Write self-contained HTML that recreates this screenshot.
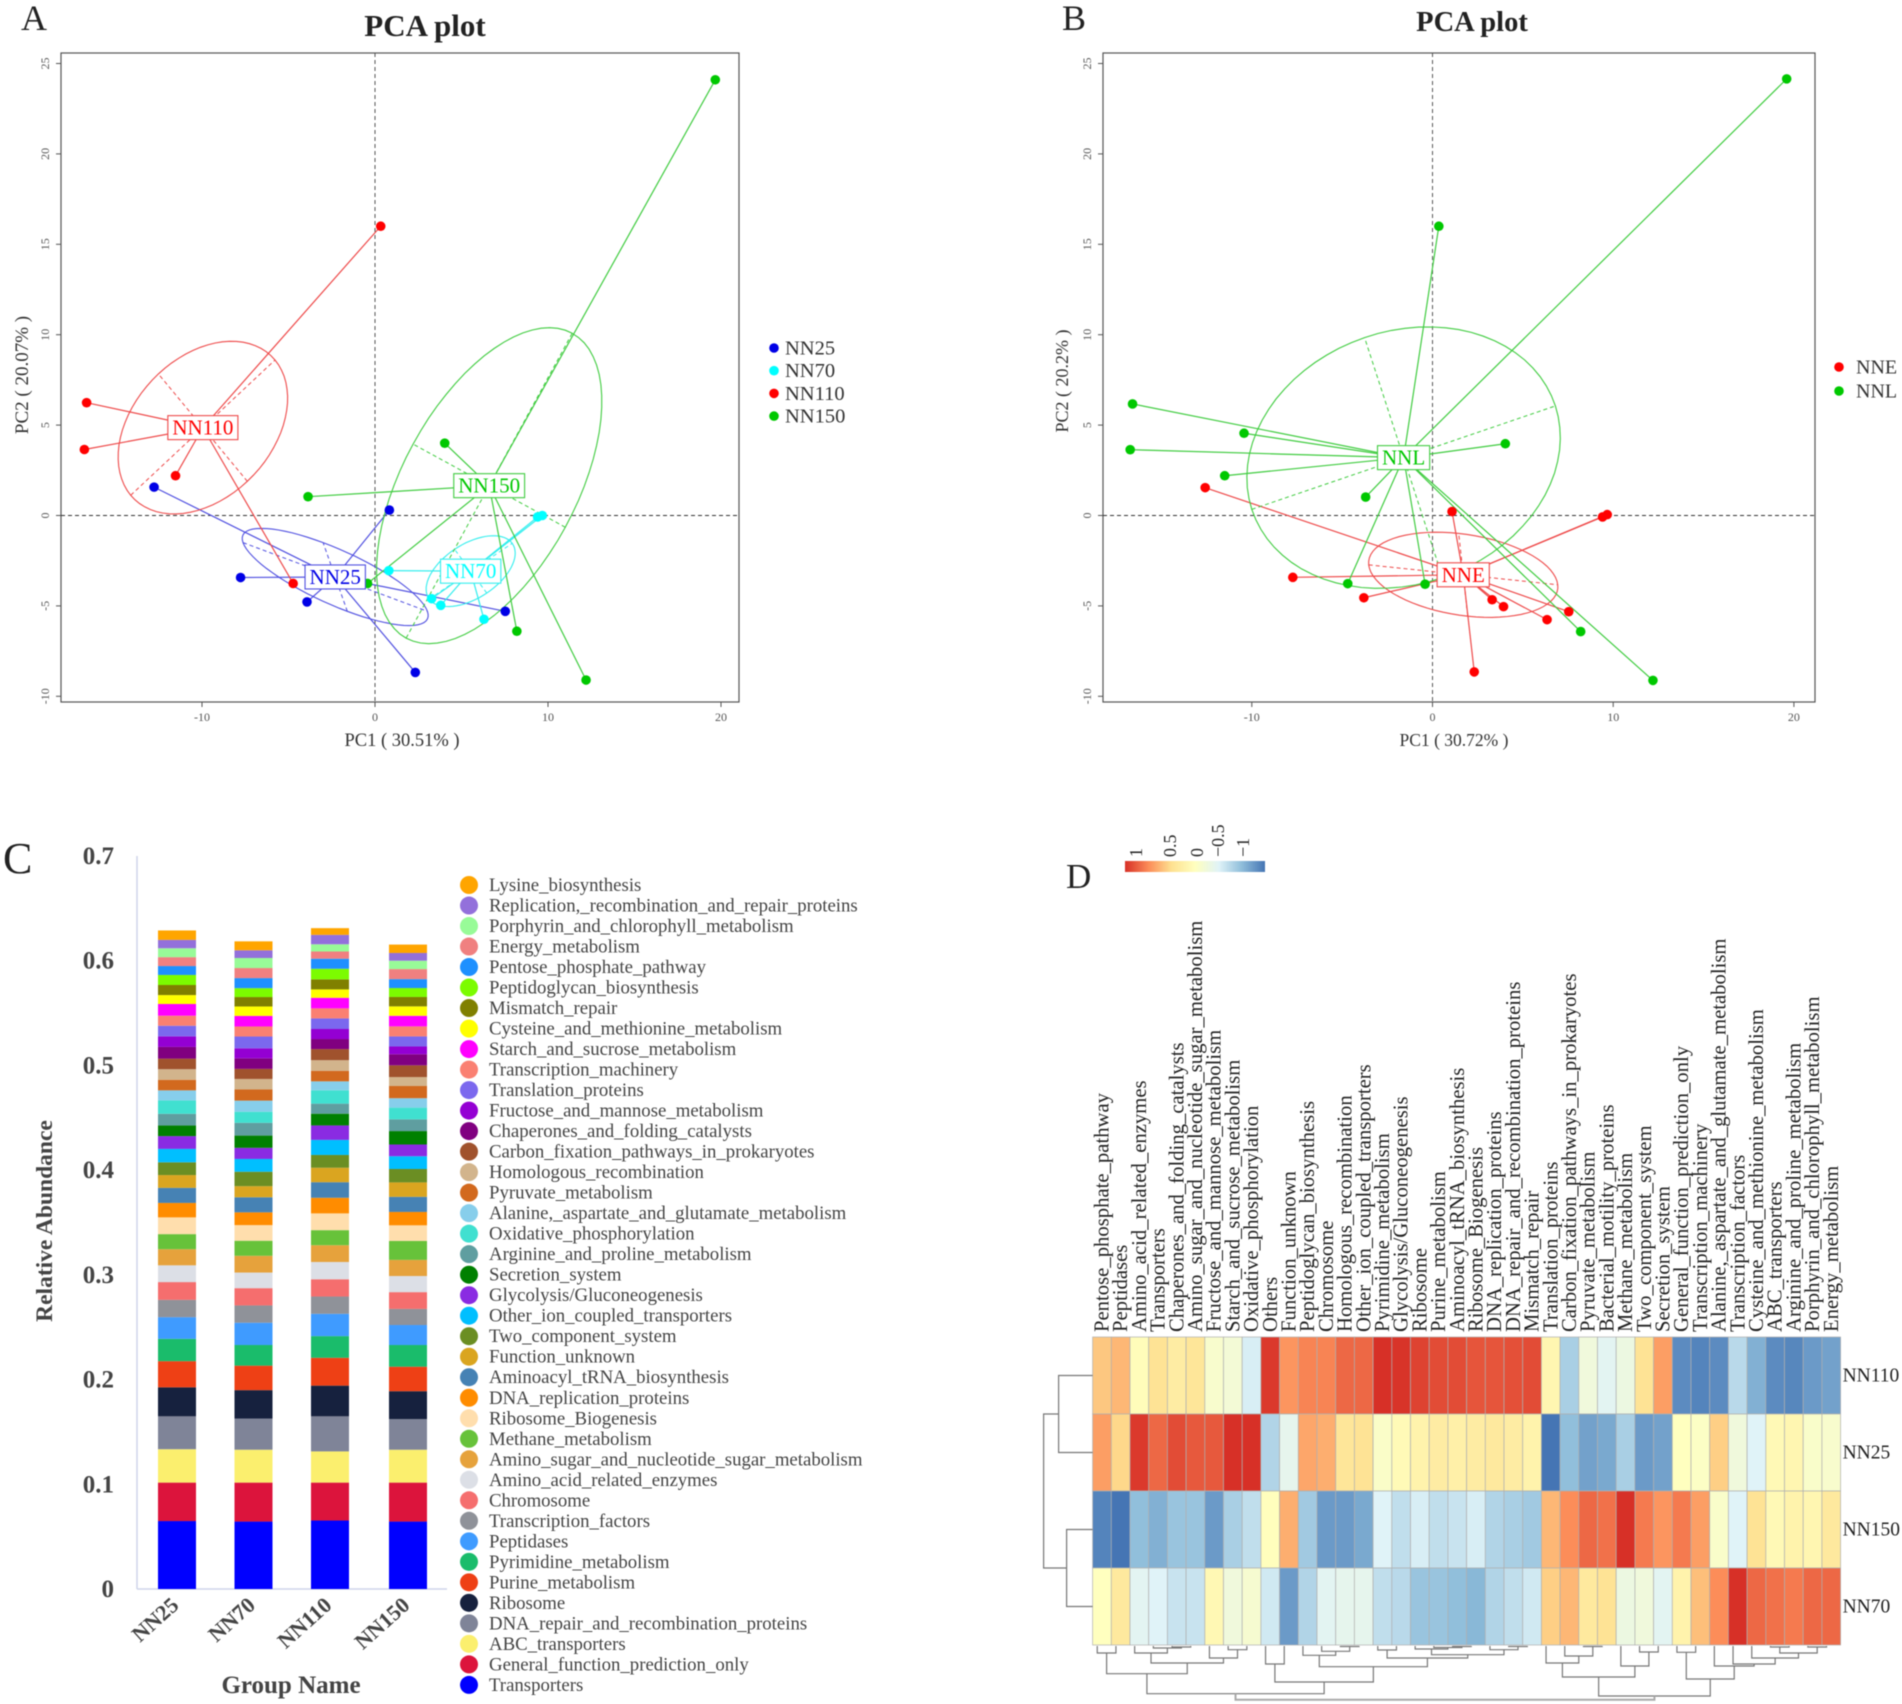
<!DOCTYPE html>
<html>
<head>
<meta charset="utf-8">
<title>PCA, abundance and heatmap figure</title>
<style>
html,body{margin:0;padding:0;background:#fff;}
svg{display:block;font-family:"Liberation Serif",serif;filter:blur(0.4px);}
</style>
</head>
<body>
<svg id="fig" xmlns="http://www.w3.org/2000/svg" width="1902" height="1704" viewBox="0 0 1902 1704">
<defs>
<linearGradient id="heat-grad" x1="0" x2="1" y1="0" y2="0">
<stop offset="0" stop-color="#d73027"/><stop offset="0.17" stop-color="#fc8d59"/><stop offset="0.33" stop-color="#fee090"/><stop offset="0.5" stop-color="#ffffbf"/><stop offset="0.67" stop-color="#e0f3f8"/><stop offset="0.83" stop-color="#91bfdb"/><stop offset="1" stop-color="#4575b4"/>
</linearGradient>
</defs>
<rect width="1902" height="1704" fill="#fff"/>
<text x="21" y="30" font-size="36" fill="#222">A</text>
<text x="1062" y="30" font-size="36" fill="#222">B</text>
<text x="3" y="873" font-size="44" fill="#222">C</text>
<text x="1066" y="888" font-size="35" fill="#222">D</text>
<text x="425" y="36" font-size="31" font-weight="bold" text-anchor="middle" fill="#222">PCA plot</text>
<text x="1472" y="31" font-size="28.5" font-weight="bold" text-anchor="middle" fill="#222">PCA plot</text>
<text x="402" y="746" font-size="18.5" text-anchor="middle" fill="#333">PC1 ( 30.51% )</text>
<text x="1454" y="746" font-size="17.5" text-anchor="middle" fill="#333">PC1 ( 30.72% )</text>
<text transform="translate(28,375) rotate(-90)" font-size="19" text-anchor="middle" fill="#333">PC2 ( 20.07% )</text>
<text transform="translate(1068,381) rotate(-90)" font-size="18" text-anchor="middle" fill="#333">PC2 ( 20.2% )</text>
<text transform="translate(52,1221) rotate(-90)" font-size="23.5" font-weight="bold" text-anchor="middle" fill="#444">Relative Abundance</text>
<text x="291" y="1693" font-size="25" font-weight="bold" text-anchor="middle" fill="#444">Group Name</text>
<rect x="1125" y="861" width="140" height="11" fill="url(#heat-grad)"/>
<g id="pca-a"></g>
<g id="pca-b"></g>
<g id="bars"></g>
<g id="heat"></g>
</svg>
<script>
// ---------- Panel A data ----------
const aNN25X = [-12.77,-7.77,-3.93,0.83,2.33,7.53];
const aNN25Y = [1.57,-3.43,-4.78,0.3,-8.68,-5.3];
const aNN70X = [0.8,3.27,3.8,6.3,9.4,9.67];
const aNN70Y = [-3.05,-4.6,-4.97,-5.74,-0.08,0];
const aNN110X = [0.33,-16.67,-16.8,-11.53,-4.73];
const aNN110Y = [16,6.24,3.65,2.2,-3.76];
const aNN150X = [19.67,4.03,-3.87,-0.43,8.2,12.2];
const aNN150Y = [24.1,4,1.04,-3.76,-6.4,-9.1];
const aCentroidX = [-2.3,5.53,-9.95,6.6];
const aCentroidY = [-3.4,-3.08,4.86,1.65];
const aEllipseU = [[5.33,-1.9],[2.4,1.54],[4.17,3.74],[4.8,8.43]];
const aEllipseV = [[-0.7,1.9],[-0.93,1.21],[-2.57,2.97],[-4.4,2.3]];
const aGroups = ["NN25","NN70","NN110","NN150"];
// ---------- Panel B data ----------
const bNNEX = [-12.58,1.08,9.41,9.67,-7.73,-3.8,3.3,3.93,6.34,7.54,2.31];
const bNNEY = [1.54,0.22,-0.08,0.05,-3.42,-4.55,-4.66,-5.04,-5.76,-5.32,-8.65];
const bNNLX = [19.6,0.35,-16.6,-10.43,-16.73,-11.5,4.03,-3.7,-4.69,-0.41,8.2,12.2];
const bNNLY = [24.15,16,6.17,4.55,3.64,2.2,3.97,1.02,-3.77,-3.8,-6.42,-9.12];
const bCentroidX = [1.7,-1.6];
const bCentroidY = [-3.28,3.2];
const bEllipseU = [[5.23,-0.55],[8.4,2.86]];
const bEllipseV = [[-0.25,2.29],[-2.16,6.64]];
const bGroups = ["NNE","NNL"];
const pcaXTicks = [-10,0,10,20];
const pcaYTicks = [-10,-5,0,5,10,15,20,25];
// ---------- Panel C data (bottom to top) ----------
const barGroups = ["NN25","NN70","NN110","NN150"];
const barCategories = ["Transporters","General_function_prediction_only","ABC_transporters","DNA_repair_and_recombination_proteins","Ribosome","Purine_metabolism","Pyrimidine_metabolism","Peptidases","Transcription_factors","Chromosome","Amino_acid_related_enzymes","Amino_sugar_and_nucleotide_sugar_metabolism","Methane_metabolism","Ribosome_Biogenesis","DNA_replication_proteins","Aminoacyl_tRNA_biosynthesis","Function_unknown","Two_component_system","Other_ion_coupled_transporters","Glycolysis/Gluconeogenesis","Secretion_system","Arginine_and_proline_metabolism","Oxidative_phosphorylation","Alanine,_aspartate_and_glutamate_metabolism","Pyruvate_metabolism","Homologous_recombination","Carbon_fixation_pathways_in_prokaryotes","Chaperones_and_folding_catalysts","Fructose_and_mannose_metabolism","Translation_proteins","Transcription_machinery","Starch_and_sucrose_metabolism","Cysteine_and_methionine_metabolism","Mismatch_repair","Peptidoglycan_biosynthesis","Pentose_phosphate_pathway","Energy_metabolism","Porphyrin_and_chlorophyll_metabolism","Replication,_recombination_and_repair_proteins","Lysine_biosynthesis"];
const barColors = ["#0000ff","#dc143c","#fbef6e","#7f8498","#16213e","#ee4015","#1abc6b","#3f9bff","#8f9299","#f56e6e","#dcdfe6","#e6a23c","#67c23a","#ffdead","#ff8c00","#4682b4","#daa520","#6b8e23","#00bfff","#8a2be2","#008000","#5f9ea0","#40e0d0","#87ceeb","#d2691e","#d2b48c","#a0522d","#800080","#9400d3","#7b68ee","#fa8072","#ff00ff","#ffff00","#808000","#7cfc00","#1e90ff","#f08080","#98fb98","#9370db","#ffa500"];
const barNN25 = [.0649,.0367,.0319,.0314,.0277,.0250,.0213,.0207,.0165,.0170,.0160,.0154,.0144,.0160,.0138,.0144,.0122,.0122,.0128,.0122,.0101,.0112,.0128,.0096,.0101,.0101,.0101,.0112,.0101,.0101,.0096,.0112,.0085,.0096,.0096,.0085,.0085,.0085,.0080,.0090];
const barNN70 = [.0644,.0372,.0314,.0298,.0271,.0234,.0197,.0213,.0165,.0165,.0149,.0160,.0144,.0149,.0122,.0144,.0106,.0138,.0122,.0106,.0117,.0122,.0106,.0106,.0106,.0101,.0096,.0101,.0096,.0112,.0096,.0101,.0090,.0090,.0085,.0096,.0096,.0096,.0074,.0085];
const barNN110 = [.0654,.0362,.0298,.0335,.0293,.0266,.0207,.0213,.0165,.0165,.0165,.0160,.0144,.0160,.0149,.0149,.0138,.0122,.0144,.0138,.0112,.0096,.0128,.0085,.0101,.0101,.0106,.0096,.0096,.0101,.0096,.0101,.0080,.0096,.0101,.0096,.0069,.0069,.0090,.0064];
const barNN150 = [.0644,.0372,.0314,.0293,.0266,.0234,.0207,.0191,.0154,.0160,.0154,.0154,.0181,.0149,.0128,.0144,.0138,.0128,.0122,.0112,.0128,.0112,.0112,.0090,.0117,.0085,.0112,.0106,.0074,.0096,.0096,.0101,.0090,.0090,.0085,.0085,.0096,.0080,.0074,.0080];
const barYTicks = [0,0.1,0.2,0.3,0.4,0.5,0.6,0.7];
// ---------- Panel D data ----------
const heatColumns = ["Pentose_phosphate_pathway","Peptidases","Amino_acid_related_enzymes","Transporters","Chaperones_and_folding_catalysts","Amino_sugar_and_nucleotide_sugar_metabolism","Fructose_and_mannose_metabolism","Starch_and_sucrose_metabolism","Oxidative_phosphorylation","Others","Function_unknown","Peptidoglycan_biosynthesis","Chromosome","Homologous_recombination","Other_ion_coupled_transporters","Pyrimidine_metabolism","Glycolysis/Gluconeogenesis","Ribosome","Purine_metabolism","Aminoacyl_tRNA_biosynthesis","Ribosome_Biogenesis","DNA_replication_proteins","DNA_repair_and_recombination_proteins","Mismatch_repair","Translation_proteins","Carbon_fixation_pathways_in_prokaryotes","Pyruvate_metabolism","Bacterial_motility_proteins","Methane_metabolism","Two_component_system","Secretion_system","General_function_prediction_only","Transcription_machinery","Alanine,_aspartate_and_glutamate_metabolism","Transcription_factors","Cysteine_and_methionine_metabolism","ABC_transporters","Arginine_and_proline_metabolism","Porphyrin_and_chlorophyll_metabolism","Energy_metabolism"];
const heatRows = ["NN110","NN25","NN150","NN70"];
const heatNN110 = [.65,.75,.05,.45,.3,.4,-.12,-.2,-.55,1.45,.95,1.05,1.05,1.2,1.2,1.5,1.48,1.4,1.35,1.35,1.3,1.3,1.33,1.35,.15,-.85,-.25,-.45,-.3,.45,.9,-1.35,-1.4,-1.35,-.75,-1.1,-1.35,-1.38,-1.25,-1.2];
const heatNN25 = [.9,.55,1.45,1.2,1.35,1.28,1.28,1.5,1.5,-.8,-.4,.85,.8,.4,.45,-.08,.08,.2,.3,.25,.3,.35,.3,.2,-1.5,-1,-1.2,-1.15,-.85,-1.25,-1.2,0,-.05,.6,-.25,-.5,.1,.15,-.1,-.12];
const heatNN150 = [-1.4,-1.5,-1,-1.1,-.95,-.95,-1.25,-.85,-.7,.02,.8,-.9,-1.25,-1.25,-1.15,-.5,-.7,-.55,-.7,-.65,-.55,-.8,-.85,-.9,.75,1,1.2,1.15,1.5,1.1,.95,1.1,.9,-.1,-.5,.45,.1,.2,.15,.35];
const heatNN70 = [0,.35,-.45,-.5,-.65,-.65,.12,-.25,-.15,-.6,-1.25,-.8,-.45,-.4,-.4,-.7,-.75,-.95,-.95,-1,-1.05,-.8,-.7,-.6,.6,.75,.35,.45,-.3,-.25,-.45,.2,.7,1,1.5,1.2,1.15,1.1,1.2,1.2];
const colorbarLabels = ["1","0.5","0","\u22120.5","\u22121"];
// dendrogram trees: [left, right, merge height]; leaves are column / row indices
const colTree = [[[[0,1,7],[[2,[3,[4,5,1],2],7],[6,[7,8,3.7],12],17],27.7],[[9,10,18],[[11,[12,[13,14,.5],5.3],9.3],[[15,16,4],[[17,[18,[19,20,.5],1.5],3],[21,[22,23,.5],3.7],8.7],12],20.7],36],47.7],[[[24,[25,[26,27,.5],10],17],[28,[29,30,6],20],31],[[31,32,6.3],[33,[34,[35,[[36,37,1],[38,39,1],7],12],18],20],33],50],53.7];
const rowTree = [[0,1,34],[2,3,26],49];

const NS = "http://www.w3.org/2000/svg";
function mk(tag, attrs, parent){
  const el = document.createElementNS(NS, tag);
  for (const k in attrs) el.setAttribute(k, attrs[k]);
  parent.appendChild(el);
  return el;
}

// ---------- PCA ----------
function drawPCA(root, cfg){
  const sx = v => cfg.x0 + cfg.xu * v;
  const sy = v => cfg.y0 - cfg.yu * v;
  const box = mk("rect",{x:cfg.left,y:cfg.top,width:cfg.right-cfg.left,height:cfg.bottom-cfg.top,fill:"none",stroke:"#555","stroke-width":1.2},root);
  
  
  const hz = mk("line",{x1:cfg.left,x2:cfg.right,y1:sy(0),y2:sy(0),stroke:"#333","stroke-width":1,"stroke-dasharray":"4 3"},root);
  
  
  const vz = mk("line",{x1:sx(0),x2:sx(0),y1:cfg.top,y2:cfg.bottom,stroke:"#555","stroke-width":1,"stroke-dasharray":"4 3"},root);
  
  
  pcaXTicks.forEach(t=>{
    const tk = mk("line",{x1:sx(t),x2:sx(t),y1:cfg.bottom,y2:cfg.bottom+5,stroke:"#555"},root);
    
    
    const tl = mk("text",{x:sx(t),y:cfg.bottom+19,"font-size":12,"text-anchor":"middle",fill:"#555"},root);
    tl.textContent = t;
    
    
  });
  pcaYTicks.forEach(t=>{
    const tk = mk("line",{x1:cfg.left-5,x2:cfg.left,y1:sy(t),y2:sy(t),stroke:"#555"},root);
    
    
    const tl = mk("text",{transform:"translate("+(cfg.left-12)+","+sy(t)+") rotate(-90)","font-size":12,"text-anchor":"middle",fill:"#555"},root);
    tl.textContent = t;
    
    
  });
  cfg.groups.forEach((g,i)=>{
    const cx = cfg.cx[i], cy = cfg.cy[i], u = cfg.u[i], v = cfg.v[i], c = cfg.colors[i];
    cfg.xs[i].forEach((px,j)=>{
      const sp = mk("line",{x1:sx(cx),y1:sy(cy),x2:sx(px),y2:sy(cfg.ys[i][j]),stroke:c.line,"stroke-width":1.2},root);
      
      
    });
    let d = "";
    for (let k=0;k<=72;k++){
      const t = k/72*2*Math.PI;
      d += (k?"L":"M") + sx(cx+u[0]*Math.cos(t)+v[0]*Math.sin(t)).toFixed(1) + " " + sy(cy+u[1]*Math.cos(t)+v[1]*Math.sin(t)).toFixed(1);
    }
    const el = mk("path",{d:d+"Z",fill:"none",stroke:c.line,"stroke-width":1.1},root);
    
    
    [u,v].forEach(a=>{
      const ax = mk("line",{x1:sx(cx-a[0]),y1:sy(cy-a[1]),x2:sx(cx+a[0]),y2:sy(cy+a[1]),stroke:c.line,"stroke-width":1,"stroke-dasharray":"4 3"},root);
      
      
    });
  });
  cfg.groups.forEach((g,i)=>{
    cfg.xs[i].forEach((px,j)=>{
      const dot = mk("circle",{cx:sx(px),cy:sy(cfg.ys[i][j]),r:4.8,fill:cfg.colors[i].dot},root);
      
      
    });
  });
  cfg.groups.forEach((g,i)=>{
    const rect = mk("rect",{y:sy(cfg.cy[i])-12,height:24,fill:"#fff",stroke:cfg.colors[i].line,"stroke-width":1.1},root);
    
    
    const txt = mk("text",{x:sx(cfg.cx[i]),y:sy(cfg.cy[i])+7,"font-size":21,"text-anchor":"middle",fill:cfg.colors[i].dot},root);
    txt.textContent = g;
    
    
    const w = txt.getComputedTextLength() + 9;
    rect.setAttribute("x", sx(cfg.cx[i]) - w/2);
    rect.setAttribute("width", w);
    const ly = cfg.legY + i*cfg.legDy;
    const ld = mk("circle",{cx:cfg.legX,cy:ly,r:4.8,fill:cfg.colors[i].dot},root);
    
    
    const lt = mk("text",{x:cfg.legX+cfg.legGap,y:ly+6.5,"font-size":cfg.legSize,fill:"#333"},root);
    lt.textContent = g;
    
    
  });
}
const BLUE={dot:"#0000e6",line:"#5050e0"}, CYAN={dot:"#00ffff",line:"#33eeee"}, RED={dot:"#ff0000",line:"#ee4a4a"}, GREEN={dot:"#00c800",line:"#40cc40"};
drawPCA(document.getElementById("pca-a"),{
  left:61,right:739,top:53,bottom:702,x0:375,xu:17.3,y0:515.5,yu:18.08,
  groups:aGroups,colors:[BLUE,CYAN,RED,GREEN],
  xs:[aNN25X,aNN70X,aNN110X,aNN150X],ys:[aNN25Y,aNN70Y,aNN110Y,aNN150Y],
  cx:aCentroidX,cy:aCentroidY,u:aEllipseU,v:aEllipseV,
  legX:774,legY:348,legDy:22.7,legGap:11,legSize:20.5
});
drawPCA(document.getElementById("pca-b"),{
  left:1103,right:1815,top:53,bottom:702,x0:1432.5,xu:18.07,y0:515.5,yu:18.08,
  groups:bGroups,colors:[RED,GREEN],
  xs:[bNNEX,bNNLX],ys:[bNNEY,bNNLY],
  cx:bCentroidX,cy:bCentroidY,u:bEllipseU,v:bEllipseV,
  legX:1839,legY:367,legDy:24,legGap:17,legSize:20
});

// ---------- Bars ----------
(function(){
  const root = document.getElementById("bars");
  const y = v => 1589 - v/0.7*733;
  const barX = [158,234.5,311,389];
  const barW = 38;
  const axY = mk("line",{x1:137,x2:137,y1:856,y2:1589,stroke:"#cfd5ea","stroke-width":1.5},root);
  
  
  const axX = mk("line",{x1:137,x2:447,y1:1589,y2:1589,stroke:"#cfd5ea","stroke-width":1.5},root);
  
  
  barYTicks.forEach(t=>{
    const tl = mk("text",{x:114,y:y(t)+8,"font-size":25,"font-weight":"bold","text-anchor":"end",fill:"#444"},root);
    tl.textContent = t;
    
    
  });
  [barNN25,barNN70,barNN110,barNN150].forEach((vals,g)=>{
    let cum = 0;
    vals.forEach((v,i)=>{
      const r = mk("rect",{x:barX[g],width:barW,y:y(cum+v),height:y(cum)-y(cum+v),fill:barColors[i]},root);
      
      
      cum += v;
    });
    const gl = mk("text",{transform:"translate("+(barX[g]+barW/2+3)+",1607) rotate(-42)","font-size":22,"font-weight":"bold","text-anchor":"end",fill:"#444"},root);
    gl.textContent = barGroups[g];
    
    
  });
  const n = barCategories.length;
  barCategories.forEach((c,i)=>{
    const ly = 885 + (n-1-i)*20.51;
    const s = mk("circle",{cx:469,cy:ly,r:9,fill:barColors[i]},root);
    
    
    const t = mk("text",{x:489,y:ly+6,"font-size":18.8,fill:"#444"},root);
    t.textContent = c;
    
    
  });
})();

// ---------- Heatmap ----------
(function(){
  const root = document.getElementById("heat");
  const L = 1092.6, T = 1337, CW = 18.7, RH = 77;
  const stops = [[-1.5,[69,117,180]],[-1,[145,191,219]],[-.5,[224,243,248]],[0,[255,255,191]],[.5,[254,224,144]],[1,[252,141,89]],[1.5,[215,48,39]]];
  function color(v){
    v = Math.max(-1.5,Math.min(1.5,v));
    for (let i=0;i<stops.length-1;i++){
      if (v<=stops[i+1][0]){
        const f = (v-stops[i][0])/(stops[i+1][0]-stops[i][0]);
        const a = stops[i][1], b = stops[i+1][1];
        return "rgb("+a.map((x,k)=>Math.round(x+(b[k]-x)*f)).join(",")+")";
      }
    }
    return "rgb(215,48,39)";
  }
  [heatNN110,heatNN25,heatNN150,heatNN70].forEach((vals,r)=>{
    vals.forEach((v,c)=>{
      const cell = mk("rect",{x:L+c*CW,y:T+r*RH,width:CW,height:RH,fill:color(v),stroke:"#b0b0b0","stroke-width":.7},root);
      
      
    });
    const lab = mk("text",{x:L+40*CW+2,y:T+(r+.5)*RH+6,"font-size":19.5,fill:"#222"},root);
    lab.textContent = heatRows[r];
    
    
  });
  heatColumns.forEach((name,c)=>{
    const t = mk("text",{transform:"translate("+(L+(c+.5)*CW+6.5)+",1332) rotate(-90)","font-size":20.7,fill:"#222"},root);
    t.textContent = name;
    
    
  });
  const cbX = [1142,1176,1203,1224,1249];
  colorbarLabels.forEach((s,i)=>{
    const t = mk("text",{transform:"translate("+cbX[i]+",857) rotate(-90)","font-size":18,fill:"#222"},root);
    t.textContent = s;
    
    
  });
  // column dendrogram
  function dendroCol(node){
    if (typeof node === "number") return {x:L+(node+.5)*CW-4.7,h:0};
    const a = dendroCol(node[0]), b = dendroCol(node[1]), h = node[2];
    const base = 1646;
    const p = mk("path",{d:"M"+a.x+" "+(base+a.h)+"V"+(base+h)+"H"+b.x+"V"+(base+b.h),fill:"none",stroke:h>50?"#aaa":"#777","stroke-width":h>50?2:1.2},root);
    
    
    return {x:(a.x+b.x)/2,h:h};
  }
  dendroCol(colTree);
  // row dendrogram
  function dendroRow(node){
    if (typeof node === "number") return {y:T+(node+.5)*RH,h:0};
    const a = dendroRow(node[0]), b = dendroRow(node[1]), h = node[2];
    const p = mk("path",{d:"M"+(L-a.h)+" "+a.y+"H"+(L-h)+"V"+b.y+"H"+(L-b.h),fill:"none",stroke:"#777","stroke-width":1.2},root);
    
    
    return {y:(a.y+b.y)/2,h:h};
  }
  dendroRow(rowTree);
})();
</script>
</body>
</html>
